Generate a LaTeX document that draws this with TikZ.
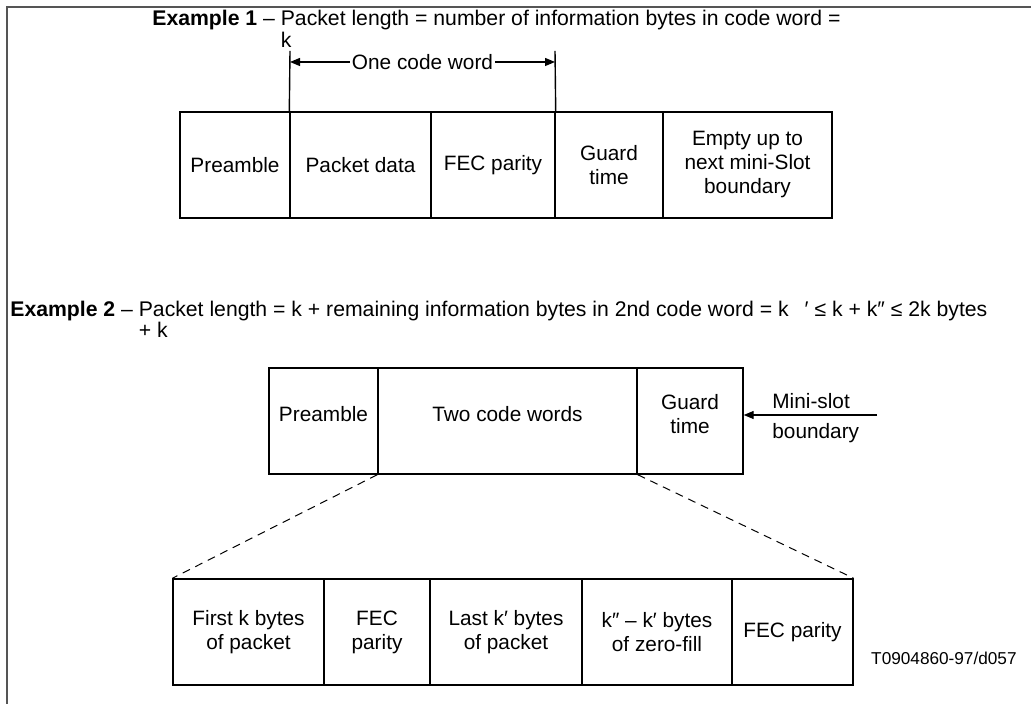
\documentclass[tikz,border=0pt]{standalone}
\usepackage{fontspec}
\setmainfont{Liberation Sans}
\usetikzlibrary{arrows.meta,calc}
\definecolor{FrameGray}{RGB}{85,85,85}

\begin{document}
\begin{tikzpicture}[x=0.5pt,y=-0.5pt,
  cellblk/.style={draw,line width=0.7pt,minimum height=53pt,inner sep=2pt,
                  align=center,font=\fontsize{10.4}{12}\selectfont},
  upcell/.style={cellblk,text depth=7pt},
  ttl/.style={anchor=base west,inner sep=0pt,font=\fontsize{10.6}{12}\selectfont},
  lbl/.style={inner sep=1pt,font=\fontsize{10.4}{12}\selectfont},
  arr/.style={line width=0.6pt,-{Triangle[length=5pt,width=4pt]}},
]
\useasboundingbox (0,0) rectangle (1031,704);
% frame
\coordinate (frTL) at (7,7);
\draw[FrameGray,line width=1pt] (1031,7) -- (frTL) -- (7,704);

% Example 1
\node[ttl] (ex1) at (152,26) {\textbf{Example 1} -- \begin{tabular}[t]{@{}l@{}}Packet length = number of information bytes in code word =\\[-1pt]k\end{tabular}};
\node[cellblk,minimum width=55pt] (pre1) at (235,165) {Preamble};
\node[cellblk,minimum width=70.5pt] (pkt1) at (360.5,165) {Packet data};
\node[cellblk,minimum width=62pt] (fec1) at (493,165) {FEC parity};
\node[cellblk,minimum width=54pt] (grd1) at (609,165) {Guard\\time};
\node[cellblk,minimum width=84.5pt] (emp1) at (747.5,165) {Empty up to\\next mini-Slot\\boundary};
\coordinate (tkL) at (290,51);
\coordinate (tkR) at (555,51);
\draw[line width=0.7pt] (tkL) -- (pkt1.north west);
\draw[line width=0.7pt] (tkR) -- (fec1.north east);
\node[lbl] (ocw) at (422.5,62) {One code word};
\draw[arr] (ocw.west) -- (ocw.west -| tkL);
\draw[arr] (ocw.east) -- (ocw.east -| tkR);

% Example 2
\node[ttl] (ex2) at (10,317) {\textbf{Example 2} -- \begin{tabular}[t]{@{}l@{}}Packet length = k + remaining information bytes in 2nd code word = k\hspace{8pt}′ ≤ k + k″ ≤ 2k bytes\\[-1.5pt]+ k\end{tabular}};
\node[upcell,minimum width=54.5pt] (pre2) at (323.5,421) {Preamble};
\node[upcell,minimum width=129.5pt] (two2) at (507.5,421) {Two code words};
\node[upcell,minimum width=53pt] (grd2) at (690,421) {Guard\\time};
\node[lbl,anchor=south west] (msl) at (770,411) {Mini-slot};
\node[lbl,anchor=north west] (bnd) at (770,421) {boundary};
\coordinate (mslEnd) at (877,415);
\draw[arr] (mslEnd) -- (grd2.east |- mslEnd);

% expanded code words
\node[cellblk,minimum width=75.5pt] (fst3) at (248.5,632) {First k bytes\\of packet};
\node[cellblk,minimum width=53pt] (fec3) at (377,632) {FEC\\parity};
\node[cellblk,minimum width=76pt] (lst3) at (506,632) {Last k′ bytes\\of packet};
\node[cellblk,minimum width=75pt] (zro3) at (657,632) {k″ – k′ bytes\\of zero-fill};
\node[cellblk,minimum width=60.5pt] (fec4) at (792.5,632) {FEC parity};
\draw[line width=0.5pt,dash pattern=on 4pt off 3pt] (two2.south west) -- (fst3.north west);
\draw[line width=0.5pt,dash pattern=on 4pt off 3pt] (two2.south east) -- (fec4.north east);

\node[font=\fontsize{8.6}{10}\selectfont,anchor=east,inner sep=0pt] (fig) at (1017,658) {T0904860-97/d057};
\end{tikzpicture}
\end{document}
